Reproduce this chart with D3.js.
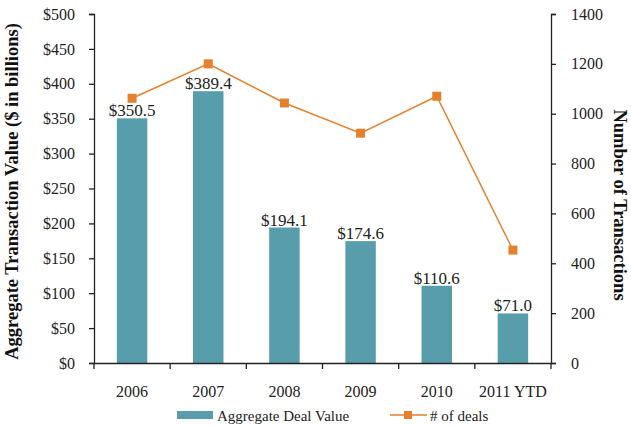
<!DOCTYPE html>
<html>
<head>
<meta charset="utf-8">
<script src="https://cdn.jsdelivr.net/npm/d3@7"></script>
<style>
  body { margin: 0; background: #fff; }
  svg { display: block; font-family: "Liberation Serif", "Times New Roman", serif; }
</style>
</head>
<body>
<div id="chart"></div>
<script>
(function(){
    const years = ['2006', '2007', '2008', '2009', '2010', '2011 YTD'];
    const dealValue = [350.5, 389.4, 194.1, 174.6, 110.6, 71.0];
    const dealCount = [1062, 1200, 1043, 922, 1070, 453];
    const leftTicks = [0, 50, 100, 150, 200, 250, 300, 350, 400, 450, 500];
    const rightTicks = [0, 200, 400, 600, 800, 1000, 1200, 1400];

    const teal = '#589dab';
    const orange = '#e5812c';

    const margin = { top: 14, left: 94, bottom: 63, right: 80 };
    const fullWidth = 631, fullHeight = 426;
    const width = fullWidth - margin.left - margin.right;
    const height = fullHeight - margin.top - margin.bottom;

    const svg = d3.select('#chart')
        .append('svg')
            .attr('width', fullWidth)
            .attr('height', fullHeight);

    const g = svg.append('g')
        .attr('transform', `translate(${margin.left}, ${margin.top})`);

    const xScale = d3.scaleBand()
        .domain(years)
        .range([0, width]);

    const yLeft = d3.scaleLinear()
        .domain([0, 500])
        .range([height, 0]);

    const yRight = d3.scaleLinear()
        .domain([0, 1400])
        .range([height, 0]);

    // bars
    const barW = xScale.bandwidth() * 0.4;
    g.selectAll('.bar')
        .data(dealValue)
        .enter()
        .append('rect')
            .attr('class', 'bar')
            .attr('x', (d, i) => xScale(years[i]) + (xScale.bandwidth() - barW) / 2)
            .attr('y', d => yLeft(d))
            .attr('width', barW)
            .attr('height', d => height - yLeft(d))
            .style('fill', teal);

    g.selectAll('.bar-label')
        .data(dealValue)
        .enter()
        .append('text')
            .attr('class', 'bar-label')
            .attr('x', (d, i) => xScale(years[i]) + xScale.bandwidth() / 2)
            .attr('y', d => yLeft(d) - 2)
            .style('text-anchor', 'middle')
            .style('font-size', '17px')
            .style('fill', '#222')
            .text(d => '$' + d.toFixed(1));

    // axes
    const leftAxis = d3.axisLeft(yLeft)
        .tickValues(leftTicks)
        .tickSize(5)
        .tickPadding(14)
        .tickFormat(d => '$' + d);
    g.append('g').attr('class', 'axis').call(leftAxis);

    const rightAxis = d3.axisRight(yRight)
        .tickValues(rightTicks)
        .tickSize(5)
        .tickPadding(15)
        .tickFormat(d => String(d));
    g.append('g').attr('class', 'axis')
        .attr('transform', `translate(${width}, 0)`)
        .call(rightAxis);

    const xAxis = d3.axisBottom(xScale).tickSize(0).tickPadding(23);
    const xg = g.append('g').attr('class', 'axis')
        .attr('transform', `translate(0, ${height})`)
        .call(xAxis);
    xg.selectAll('.tick').select('text').attr('dy', '0.71em');

    // category separator ticks
    xg.selectAll('.sep')
        .data(d3.range(years.length + 1))
        .enter()
        .append('line')
            .attr('class', 'sep')
            .attr('x1', i => i * xScale.step())
            .attr('x2', i => i * xScale.step())
            .attr('y1', 0)
            .attr('y2', 6)
            .style('stroke', '#222');

    g.selectAll('.axis path, .axis line').style('stroke', '#222').style('stroke-width', 1.3);
    g.selectAll('.axis text')
        .style('font-family', '"Liberation Serif", "Times New Roman", serif')
        .style('font-size', '16px')
        .style('fill', '#222');

    // line
    const lineGen = d3.line()
        .x((d, i) => xScale(years[i]) + xScale.bandwidth() / 2)
        .y(d => yRight(d));

    g.append('path')
        .datum(dealCount)
        .attr('d', lineGen)
        .style('fill', 'none')
        .style('stroke', orange)
        .style('stroke-width', 1.5);

    g.selectAll('.marker')
        .data(dealCount)
        .enter()
        .append('rect')
            .attr('class', 'marker')
            .attr('x', (d, i) => xScale(years[i]) + xScale.bandwidth() / 2 - 4.5)
            .attr('y', d => yRight(d) - 4.5)
            .attr('width', 9)
            .attr('height', 9)
            .style('fill', orange);

    // axis titles
    svg.append('text')
        .attr('transform', `translate(18, ${margin.top + height / 2 + 3}) rotate(-90)`)
        .style('text-anchor', 'middle')
        .style('font-weight', 'bold')
        .style('font-size', '18.5px')
        .style('fill', '#111')
        .text('Aggregate Transaction Value ($ in billions)');

    svg.append('text')
        .attr('transform', `translate(614, 205) rotate(90)`)
        .style('text-anchor', 'middle')
        .style('font-weight', 'bold')
        .style('font-size', '18.5px')
        .style('fill', '#111')
        .text('Number of Transactions');

    // legend
    const legend = svg.append('g')
        .attr('transform', `translate(0, ${fullHeight - 10})`);

    legend.append('rect')
        .attr('x', 177).attr('y', -5)
        .attr('width', 36).attr('height', 8)
        .style('fill', teal);
    legend.append('text')
        .attr('x', 217).attr('y', 0)
        .attr('dy', '0.35em')
        .style('font-size', '15px')
        .style('fill', '#222')
        .text('Aggregate Deal Value');

    legend.append('line')
        .attr('x1', 390).attr('x2', 427)
        .attr('y1', -1).attr('y2', -1)
        .style('stroke', orange)
        .style('stroke-width', 1.5);
    legend.append('rect')
        .attr('x', 404).attr('y', -5)
        .attr('width', 8).attr('height', 8)
        .style('fill', orange);
    legend.append('text')
        .attr('x', 430).attr('y', 0)
        .attr('dy', '0.35em')
        .style('font-size', '15px')
        .style('fill', '#222')
        .text('# of deals');
}());
</script>
</body>
</html>
